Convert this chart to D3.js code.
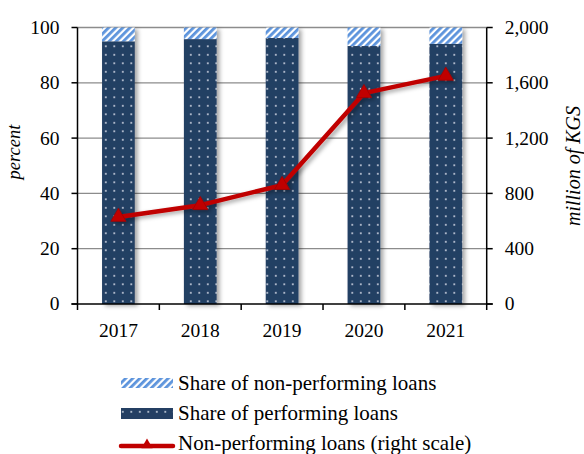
<!DOCTYPE html>
<html><head><meta charset="utf-8">
<script src="https://cdn.jsdelivr.net/npm/d3@7"></script>
<style>body{margin:0;background:#fff}svg{display:block}text{font-family:"Liberation Serif","Times New Roman",serif;fill:#000}</style>
</head><body><svg id="c" width="584" height="454"></svg>
<script>
const years = ["2017","2018","2019","2020","2021"];
const performing = [95.0, 95.8, 96.2, 93.3, 94.1];
const nonPerforming = [5.0, 4.2, 3.8, 6.7, 5.9];
const npl = [630, 715, 860, 1525, 1650];
const leftTicks = [0,20,40,60,80,100];
const rightTicks = [0,400,800,1200,1600,2000];

const svg = d3.select("#c");
const m = {l:77.5, r:486.7, t:27.5, b:304};
const x = d3.scaleBand().domain(years).range([m.l, m.r]).paddingInner(0.6).paddingOuter(0.3);
const yL = d3.scaleLinear().domain([0,100]).range([m.b, m.t]);
const yR = d3.scaleLinear().domain([0,2000]).range([m.b, m.t]);

const defs = svg.append("defs");
const dots = defs.append("pattern").attr("id","dots").attr("patternUnits","userSpaceOnUse").attr("width",8.5).attr("height",8.5);
dots.append("rect").attr("width",8.5).attr("height",8.5).attr("fill","#243f63");
dots.append("rect").attr("x",3).attr("y",3).attr("width",1.6).attr("height",1.6).attr("fill","#dfe6f0");
const stripes = defs.append("pattern").attr("id","stripes").attr("patternUnits","userSpaceOnUse").attr("width",5).attr("height",5).attr("patternTransform","rotate(45)");
stripes.append("rect").attr("width",5).attr("height",5).attr("fill","#ffffff");
stripes.append("rect").attr("width",2.8).attr("height",5).attr("fill","#5b93dc");
const sh = defs.append("filter").attr("id","sh").attr("x","-20%").attr("y","-20%").attr("width","150%").attr("height","140%");
sh.append("feDropShadow").attr("dx",3).attr("dy",2).attr("stdDeviation",2).attr("flood-color","#000").attr("flood-opacity",0.35);

// gridlines
svg.append("g").selectAll("line").data(leftTicks.slice(1)).join("line")
  .attr("x1",m.l).attr("x2",m.r).attr("y1",d=>yL(d)).attr("y2",d=>yL(d))
  .attr("stroke","#8c8c8c").attr("stroke-width",1.3);

// bars
const bars = svg.append("g");
years.forEach((yr,i)=>{
  const g = bars.append("g").attr("filter","url(#sh)");
  g.append("rect").attr("x",x(yr)).attr("width",x.bandwidth())
    .attr("y",yL(performing[i])).attr("height",yL(0)-yL(performing[i])).attr("fill","url(#dots)");
  g.append("rect").attr("x",x(yr)).attr("width",x.bandwidth())
    .attr("y",yL(performing[i]+nonPerforming[i])).attr("height",yL(performing[i])-yL(performing[i]+nonPerforming[i])).attr("fill","url(#stripes)");
});

// axes
const ax = svg.append("g").attr("stroke","#000").attr("stroke-width",1.5);
ax.append("line").attr("x1",m.l).attr("x2",m.l).attr("y1",m.t).attr("y2",m.b);
ax.append("line").attr("x1",m.r).attr("x2",m.r).attr("y1",m.t).attr("y2",m.b);
ax.append("line").attr("x1",m.l-6).attr("x2",m.r+6).attr("y1",m.b).attr("y2",m.b);
leftTicks.forEach(t=>ax.append("line").attr("x1",m.l-6).attr("x2",m.l).attr("y1",yL(t)).attr("y2",yL(t)));
rightTicks.forEach(t=>ax.append("line").attr("x1",m.r).attr("x2",m.r+6).attr("y1",yR(t)).attr("y2",yR(t)));
const bounds = years.map(y=>x(y)-x.step()*x.paddingInner()/2).concat([m.r]);
bounds.forEach(b=>ax.append("line").attr("x1",b).attr("x2",b).attr("y1",m.b).attr("y2",m.b+6));

const fs = 19.5;
svg.append("g").selectAll("text").data(leftTicks).join("text")
  .attr("x",m.l-18).attr("y",d=>yL(d)).attr("dy","0.33em").attr("text-anchor","end")
  .attr("font-size",fs).text(d=>d);
const fmt = d3.format(",");
svg.append("g").selectAll("text").data(rightTicks).join("text")
  .attr("x",m.r+18).attr("y",d=>yR(d)).attr("dy","0.33em").attr("text-anchor","start")
  .attr("font-size",fs).text(d=>fmt(d));
svg.append("g").selectAll("text").data(years).join("text")
  .attr("x",d=>x(d)+x.bandwidth()/2).attr("y",m.b+32.5).attr("text-anchor","middle")
  .attr("font-size",fs).text(d=>d);

svg.append("text").attr("transform",`translate(20,152) rotate(-90)`)
  .attr("text-anchor","middle").attr("font-size",18.5).attr("font-style","italic").text("percent");
svg.append("text").attr("transform",`translate(580,166) rotate(-90)`)
  .attr("text-anchor","middle").attr("font-size",20).attr("font-style","italic").text("million of KGS");

// line
const lg = svg.append("g").attr("filter","url(#sh)");
const line = d3.line().x((d,i)=>x(years[i])+x.bandwidth()/2).y(d=>yR(d));
lg.append("path").datum(npl).attr("d",line).attr("fill","none").attr("stroke","#c00000").attr("stroke-width",4.5).attr("stroke-linejoin","round");
const tri = d3.symbol().type(d3.symbolTriangle).size(100);
lg.selectAll("path.m").data(npl).join("path").attr("class","m")
  .attr("transform",(d,i)=>`translate(${x(years[i])+x.bandwidth()/2},${yR(d)})`)
  .attr("d",tri).attr("fill","#c00000").attr("stroke","#a00000").attr("stroke-width",0.8);

// legend
const leg = svg.append("g");
const lfs = 21;
leg.append("rect").attr("x",121).attr("y",378).attr("width",52).attr("height",10).attr("fill","url(#stripes)");
leg.append("text").attr("x",178).attr("y",390).attr("font-size",lfs).text("Share of non-performing loans");
leg.append("rect").attr("x",121).attr("y",408).attr("width",52).attr("height",11).attr("fill","url(#dots)");
leg.append("text").attr("x",178).attr("y",420).attr("font-size",lfs).text("Share of performing loans");
leg.append("line").attr("x1",121).attr("x2",173).attr("y1",446).attr("y2",446).attr("stroke","#c00000").attr("stroke-width",4.5).attr("stroke-linecap","round");
leg.append("path").attr("transform","translate(147,445)").attr("d",d3.symbol().type(d3.symbolTriangle).size(55)).attr("fill","#c00000");
leg.append("text").attr("x",178).attr("y",450).attr("font-size",lfs).text("Non-performing loans (right scale)");
</script></body></html>
